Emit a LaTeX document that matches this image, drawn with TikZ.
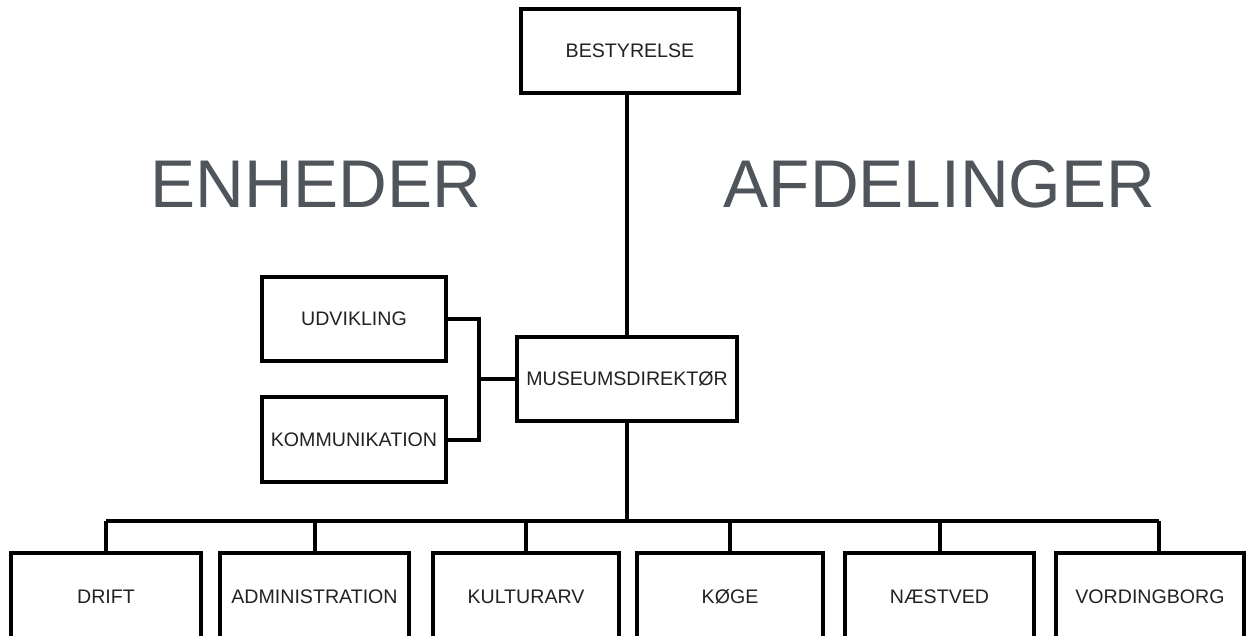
\documentclass[tikz,border=0pt]{standalone}
\usepackage{fontspec}
\setmainfont{Liberation Sans}
\usepackage{tikz}
\usetikzlibrary{positioning}

\definecolor{titelgraa}{HTML}{50555C}
\definecolor{tekstsort}{HTML}{222222}

\tikzset{
  boks/.style={draw,line width=4pt,inner sep=0pt,text=tekstsort,
    font=\fontsize{19.6}{22}\selectfont},
  titel/.style={inner sep=0pt,text=titelgraa,font=\fontsize{67.5}{70}\selectfont},
  streg/.style={line width=4pt}
}

\begin{document}
\begin{tikzpicture}[x=1pt,y=-1pt]
      \useasboundingbox (0,0) rectangle (1246,635);
      \clip (0,0) rectangle (1246,635);
      \fill[white] (0,0) rectangle (1246,635);

      \node[titel] (enh) at (316,184.5) {ENHEDER};
      \node[titel] (afd) at (939.5,184.5) {AFDELINGER};

      \node[boks,minimum width=218,minimum height=84] (best) at (630,51) {BESTYRELSE};
      \node[boks,minimum width=220,minimum height=84] (mus) at (627,379) {MUSEUMSDIREKT\O R};
      \node[boks,minimum width=184,minimum height=84] (udv) at (354,319) {UDVIKLING};
      \node[boks,minimum width=184,minimum height=85] (kom) at (354,439.5) {KOMMUNIKATION};

      % afdelinger og enheder nederst
      \node[boks,minimum width=190,minimum height=88] (drift) at (106,597) {DRIFT};
      \node[boks,minimum width=189,minimum height=88] (adm) at (314.5,597) {ADMINISTRATION};
      \node[boks,minimum width=186,minimum height=88] (kult) at (526,597) {KULTURARV};
      \node[boks,minimum width=186,minimum height=88] (koge) at (730,597) {K\O GE};
      \node[boks,minimum width=189,minimum height=88] (naest) at (939.5,597) {N\AE STVED};
      \node[boks,minimum width=188,minimum height=88] (vord) at (1150,597) {VORDINGBORG};

      \coordinate (bus) at (627,521);
      \coordinate (brk) at (479,379);
      \coordinate (vtop) at ([xshift=9]vord.north);

      \draw[streg] (mus.north) -- (mus.north |- best.south);
      \draw[streg] (mus.south) -- (bus);
      \draw[streg] (udv.east) -| (brk) |- (kom.east);
      \draw[streg] (brk) -- (mus.west);

      \draw[streg] (drift.north |- bus) -- (vtop |- bus);
      \foreach \n in {drift,adm,kult,koge,naest}
        \draw[streg] (\n.north) -- (\n.north |- bus);
      \draw[streg] (vtop) -- (vtop |- bus);

    \end{tikzpicture}
\end{document}
